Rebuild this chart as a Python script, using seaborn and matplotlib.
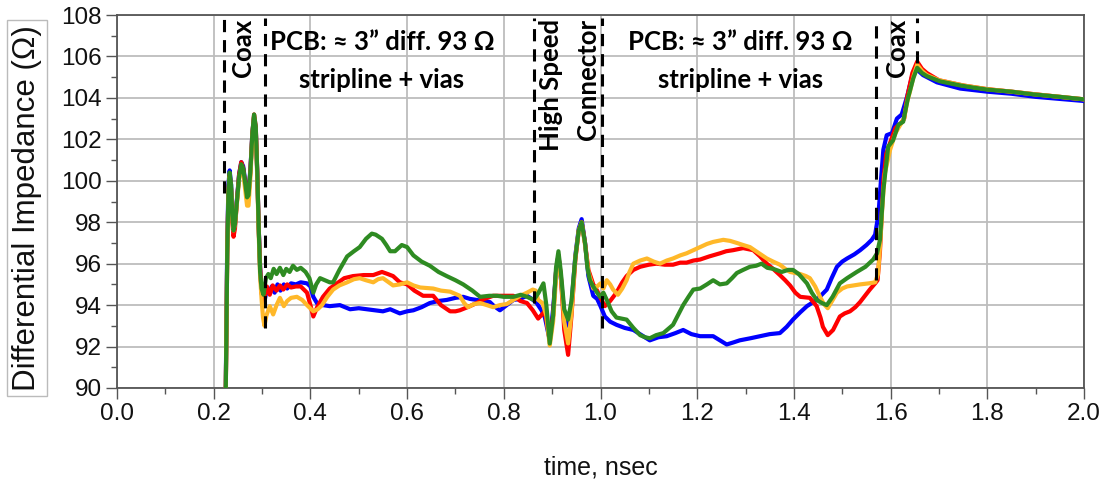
import numpy as np
import pandas as pd
import matplotlib
matplotlib.use("Agg")
import matplotlib.pyplot as plt
from matplotlib.ticker import MultipleLocator
import seaborn as sns

# ---- TDR traces: time (ns) and differential impedance (ohm) ----
# shared coax launch segment (same time base for every trace)
launch_t = [0.2245, 0.226, 0.228, 0.2305, 0.233, 0.236, 0.2385, 0.241, 0.244, 0.248,
            0.2525, 0.257, 0.261, 0.265, 0.269, 0.272, 0.276, 0.28, 0.2835, 0.287,
            0.29, 0.293, 0.296, 0.299]
launch_blue = [89.0, 92.5, 97.0, 99.8, 100.5, 99.8, 98.4, 97.7, 98.0, 99.1,
               100.3, 100.9, 100.7, 100.0, 99.3, 99.4, 100.6, 102.3, 103.1, 102.5,
               100.4, 97.8, 95.8, 94.7]
launch_red = [89.0, 92.0, 96.5, 99.5, 100.3, 99.6, 98.0, 97.3, 97.7, 99.0,
              100.3, 100.9, 100.6, 99.9, 99.2, 99.3, 100.5, 102.3, 103.2, 102.6,
              100.5, 97.8, 95.8, 94.6]
launch_orange = [89.0, 92.0, 96.5, 99.4, 100.2, 99.6, 98.2, 97.6, 97.9, 98.9,
                 100.1, 100.6, 100.4, 99.6, 98.8, 98.8, 100.2, 102.2, 103.1, 102.4,
                 100.2, 97.5, 95.4, 94.3]
launch_green = [89.0, 92.0, 96.5, 99.5, 100.4, 99.8, 98.3, 97.6, 97.9, 99.0,
                100.2, 100.8, 100.6, 99.9, 99.2, 99.3, 100.5, 102.3, 103.2, 102.6,
                100.5, 97.8, 95.6, 94.8]

blue_t = [0.302, 0.306, 0.31, 0.315, 0.32, 0.326, 0.332, 0.338, 0.345, 0.352, 0.36,
          0.37, 0.38, 0.393, 0.4, 0.406, 0.416, 0.426, 0.44, 0.461, 0.482, 0.5,
          0.517, 0.535, 0.55, 0.565, 0.585, 0.6, 0.613, 0.63, 0.647, 0.665, 0.682,
          0.7, 0.716, 0.73, 0.744, 0.758, 0.771, 0.78, 0.792, 0.806, 0.82, 0.834,
          0.848, 0.858, 0.868, 0.878, 0.885, 0.895, 0.902, 0.908, 0.913, 0.918,
          0.925, 0.933, 0.94, 0.948, 0.955, 0.961, 0.968, 0.975, 0.985, 0.993,
          1.0, 1.009, 1.02, 1.033, 1.05, 1.068, 1.085, 1.102, 1.12, 1.137, 1.155,
          1.171, 1.188, 1.206, 1.233, 1.247, 1.261, 1.275, 1.288, 1.31, 1.33,
          1.35, 1.371, 1.385, 1.398, 1.413, 1.427, 1.447, 1.468, 1.478, 1.489,
          1.5, 1.51, 1.525, 1.537, 1.55, 1.561, 1.568, 1.575, 1.58, 1.585, 1.592,
          1.603, 1.613, 1.623, 1.634, 1.644, 1.653, 1.667, 1.696, 1.744, 1.8,
          1.85, 1.9, 1.95, 2.0]
blue_z = [94.0, 94.3, 94.8, 94.6, 94.9, 94.6, 95.0, 94.7, 95.0, 94.8, 95.05,
          95.0, 95.1, 95.05, 94.9, 94.4, 94.0, 94.0, 93.95, 94.0, 93.8, 93.85,
          93.8, 93.75, 93.7, 93.8, 93.6, 93.7, 93.75, 93.9, 94.1, 94.2, 94.25,
          94.35, 94.4, 94.3, 94.25, 94.2, 94.15, 93.95, 93.75, 94.0, 94.25, 94.3,
          94.45, 94.3, 94.1, 93.75, 93.4, 92.3, 93.8, 95.6, 96.4, 95.3,
          93.6, 93.0, 94.0, 96.4, 97.7, 98.15, 97.0, 95.4, 94.45, 94.3,
          93.95, 93.45, 93.2, 93.05, 92.9, 92.8, 92.55, 92.3, 92.45, 92.5, 92.65,
          92.8, 92.6, 92.5, 92.5, 92.3, 92.1, 92.2, 92.3, 92.4, 92.5,
          92.6, 92.65, 92.95, 93.3, 93.65, 93.95, 94.25, 94.75, 95.3, 95.85,
          96.1, 96.25, 96.45, 96.65, 96.9, 97.15, 97.4, 98.4, 100.0, 101.5, 102.2,
          102.3, 103.0, 103.2, 104.05, 105.0, 105.4, 105.1, 104.75, 104.45, 104.3,
          104.2, 104.05, 103.95, 103.85]

red_t = [0.303, 0.31, 0.316, 0.322, 0.33, 0.337, 0.344, 0.352, 0.36, 0.37, 0.38,
         0.393, 0.4, 0.406, 0.414, 0.426, 0.44, 0.455, 0.47, 0.488, 0.51, 0.53,
         0.548, 0.56, 0.571, 0.585, 0.6, 0.615, 0.633, 0.654, 0.67, 0.689, 0.7,
         0.709, 0.725, 0.744, 0.76, 0.778, 0.8, 0.82, 0.834, 0.848, 0.86, 0.871,
         0.877, 0.885, 0.89, 0.895, 0.902, 0.908, 0.913, 0.918, 0.925, 0.933,
         0.94, 0.948, 0.955, 0.961, 0.968, 0.975, 0.985, 0.993, 1.0, 1.009, 1.02,
         1.033, 1.045, 1.054, 1.068, 1.082, 1.1, 1.116, 1.133, 1.15, 1.165, 1.178,
         1.192, 1.206, 1.225, 1.247, 1.26, 1.274, 1.295, 1.316, 1.33, 1.344,
         1.357, 1.371, 1.382, 1.392, 1.403, 1.413, 1.433, 1.447, 1.455, 1.46,
         1.47, 1.481, 1.495, 1.505, 1.516, 1.527, 1.537, 1.547, 1.557, 1.568,
         1.573, 1.578, 1.585, 1.591, 1.6, 1.61, 1.622, 1.628, 1.634, 1.645,
         1.655, 1.665, 1.675, 1.7, 1.75, 1.8, 1.85, 1.9, 1.95, 2.0]
red_z = [94.2, 94.9, 94.5, 94.95, 94.7, 94.95, 94.75, 95.0, 94.85, 94.9, 94.9,
         94.6, 94.0, 93.45, 93.9, 94.4, 94.8, 95.05, 95.3, 95.4, 95.45, 95.45,
         95.6, 95.5, 95.4, 95.1, 95.0, 94.7, 94.45, 94.45, 94.0, 93.7, 93.7,
         93.75, 93.9, 94.1, 94.3, 94.45, 94.45, 94.45, 94.2, 94.1, 93.75, 93.35,
         93.5, 93.7, 93.0, 92.3, 93.5, 95.6, 96.4, 95.4, 92.8, 91.6,
         93.5, 96.2, 97.6, 98.0, 97.0, 95.7, 95.0, 94.7, 94.35, 93.95, 94.2,
         94.6, 95.1, 95.4, 95.7, 95.85, 95.95, 96.0, 95.95, 95.95, 96.05, 96.05,
         96.15, 96.2, 96.35, 96.5, 96.6, 96.65, 96.75, 96.65, 96.35, 96.0,
         95.75, 95.45, 95.2, 94.95, 94.6, 94.4, 94.35, 93.95, 93.4, 92.95,
         92.55, 92.8, 93.45, 93.6, 93.7, 93.9, 94.15, 94.45, 94.75, 95.05,
         95.2, 96.6, 100.0, 101.3, 101.9, 102.55, 102.8, 103.0, 104.0, 105.2,
         105.75, 105.4, 105.2, 104.85, 104.6, 104.42, 104.3, 104.17, 104.05, 103.93]

orange_t = [0.302, 0.305, 0.309, 0.316, 0.323, 0.33, 0.337, 0.345, 0.352, 0.36,
            0.372, 0.383, 0.393, 0.406, 0.415, 0.424, 0.435, 0.447, 0.46, 0.476,
            0.49, 0.502, 0.515, 0.53, 0.54, 0.55, 0.571, 0.585, 0.6, 0.613, 0.627,
            0.654, 0.67, 0.689, 0.709, 0.718, 0.726, 0.738, 0.751, 0.765, 0.778,
            0.792, 0.806, 0.82, 0.834, 0.848, 0.86, 0.866, 0.871, 0.88, 0.888,
            0.895, 0.902, 0.908, 0.913, 0.918, 0.925, 0.933, 0.94, 0.948, 0.955,
            0.961, 0.968, 0.975, 0.985, 0.993, 1.0, 1.006, 1.013, 1.02, 1.026,
            1.036, 1.045, 1.054, 1.06, 1.068, 1.082, 1.096, 1.11, 1.123, 1.137,
            1.15, 1.165, 1.178, 1.192, 1.206, 1.22, 1.233, 1.254, 1.268, 1.282,
            1.295, 1.309, 1.325, 1.344, 1.357, 1.371, 1.382, 1.392, 1.413, 1.425,
            1.433, 1.444, 1.454, 1.462, 1.47, 1.479, 1.489, 1.5, 1.51, 1.537,
            1.555, 1.568, 1.574, 1.578, 1.583, 1.588, 1.599, 1.61, 1.62, 1.628,
            1.634, 1.64, 1.648, 1.655, 1.665, 1.675, 1.7, 1.75, 1.8, 1.85, 1.9,
            1.95, 2.0]
orange_z = [93.4, 93.0, 93.5, 93.95, 93.55, 94.0, 94.35, 93.95, 94.2, 94.35,
            94.4, 94.25, 94.0, 93.7, 93.8, 94.0, 94.4, 94.75, 94.95, 95.1,
            95.25, 95.3, 95.2, 95.1, 95.25, 95.3, 94.95, 95.0, 95.1, 94.95, 94.85,
            94.8, 94.7, 94.65, 94.45, 94.1, 93.9, 94.05, 94.1, 94.0, 93.9,
            94.0, 94.05, 94.25, 94.45, 94.6, 94.75, 94.7, 94.25, 94.1, 93.5,
            92.05, 93.2, 95.3, 96.2, 95.4, 93.2, 92.15, 93.6, 96.3, 97.6,
            98.0, 96.9, 95.6, 94.8, 94.9, 95.05, 94.8, 95.2, 95.0, 94.75,
            94.5, 94.8, 95.2, 95.6, 96.0, 96.15, 96.25, 96.1, 96.0, 96.15,
            96.25, 96.4, 96.5, 96.65, 96.8, 96.95, 97.05, 97.15, 97.1, 97.0,
            96.9, 96.8, 96.55, 96.25, 96.1, 95.95, 95.75, 95.6, 95.5, 95.4,
            95.3, 94.9, 94.4, 94.05, 93.85, 94.2, 94.6, 94.8, 94.9, 95.0,
            95.05, 95.1, 95.5, 96.8, 98.8, 100.35, 101.5, 102.3, 102.7, 103.0,
            103.8, 104.3, 105.1, 105.6, 105.3, 105.1, 104.85, 104.6, 104.42, 104.3,
            104.17, 104.05, 103.93]

green_t = [0.303, 0.308, 0.313, 0.318, 0.324, 0.33, 0.337, 0.344, 0.35, 0.357,
           0.364, 0.372, 0.38, 0.39, 0.398, 0.406, 0.412, 0.42, 0.43, 0.44, 0.447,
           0.46, 0.476, 0.49, 0.502, 0.515, 0.527, 0.535, 0.548, 0.557, 0.565,
           0.575, 0.589, 0.6, 0.613, 0.63, 0.647, 0.665, 0.682, 0.7, 0.716, 0.735,
           0.751, 0.77, 0.786, 0.8, 0.82, 0.835, 0.848, 0.862, 0.872, 0.882, 0.888,
           0.895, 0.902, 0.908, 0.913, 0.918, 0.925, 0.933, 0.94, 0.948, 0.955,
           0.961, 0.968, 0.973, 0.978, 0.985, 0.993, 0.999, 1.006, 1.013, 1.023,
           1.033, 1.044, 1.054, 1.068, 1.082, 1.092, 1.102, 1.115, 1.13, 1.14,
           1.15, 1.16, 1.171, 1.182, 1.192, 1.206, 1.22, 1.233, 1.247, 1.261,
           1.272, 1.282, 1.295, 1.309, 1.322, 1.333, 1.345, 1.357, 1.375, 1.388,
           1.398, 1.41, 1.427, 1.437, 1.447, 1.458, 1.468, 1.48, 1.495, 1.51,
           1.53, 1.548, 1.564, 1.572, 1.578, 1.585, 1.595, 1.605, 1.616, 1.626,
           1.636, 1.647, 1.655, 1.665, 1.675, 1.702, 1.723, 1.744, 1.77, 1.8,
           1.85, 1.895, 1.95, 2.0]
green_z = [94.5, 95.3, 95.5, 95.3, 95.75, 95.5, 95.8, 95.45, 95.75, 95.6,
           95.9, 95.7, 95.8, 95.6, 95.3, 94.6, 95.0, 95.3, 95.2, 95.1, 95.1,
           95.7, 96.35, 96.6, 96.8, 97.2, 97.45, 97.4, 97.2, 96.9, 96.6,
           96.6, 96.9, 96.8, 96.4, 96.1, 95.9, 95.6, 95.4, 95.2, 95.0, 94.7,
           94.4, 94.45, 94.45, 94.4, 94.4, 94.5, 94.4, 94.25, 94.6, 95.05, 94.0,
           92.15, 93.5, 95.8, 96.6, 95.6, 93.8, 93.3, 94.2, 96.3, 97.6,
           98.0, 97.0, 95.8, 95.2, 94.9, 94.6, 94.4, 94.6, 94.25, 93.7,
           93.4, 93.35, 93.3, 92.9, 92.55, 92.45, 92.4, 92.55, 92.65, 92.85,
           93.05, 93.5, 94.0, 94.4, 94.75, 94.8, 95.0, 95.2, 95.0, 95.05,
           95.3, 95.55, 95.7, 95.85, 95.9, 96.0, 95.8, 95.75, 95.6, 95.7,
           95.7, 95.5, 95.05, 94.6, 94.25, 94.1, 94.0, 94.4, 95.05, 95.3,
           95.6, 95.85, 96.2, 96.5, 97.15, 99.55, 101.65, 101.95, 102.7, 102.85,
           104.0, 104.95, 105.45, 105.2, 105.05, 104.8, 104.7, 104.6, 104.5, 104.4,
           104.3, 104.17, 104.05, 103.93]

series_names = ["blue", "red", "orange", "green"]
series_colors = ["#0000FF", "#FF0000", "#FFB829", "#2E8B22"]

# section boundaries: time and the impedance where each marker stops
marker_t = [0.221, 0.306, 0.862, 1.003, 1.569, 1.654]
marker_bottom = [99.4, 92.9, 94.1, 92.9, 95.2, 105.7]

x_ticks = [0.0, 0.2, 0.4, 0.6, 0.8, 1.0, 1.2, 1.4, 1.6, 1.8, 2.0]
y_ticks = [90, 92, 94, 96, 98, 100, 102, 104, 106, 108]

frames = []
traces = {
    "blue": (launch_blue, blue_t, blue_z),
    "red": (launch_red, red_t, red_z),
    "orange": (launch_orange, orange_t, orange_z),
    "green": (launch_green, green_t, green_z),
}
for name in series_names:
    launch, t, z = traces[name]
    frames.append(pd.DataFrame({"time": list(launch_t) + list(t),
                                "z": list(launch) + list(z),
                                "trace": name}))
df = pd.concat(frames, ignore_index=True)

sns.set_style("white")
plt.rcParams["font.family"] = ["Liberation Sans", "DejaVu Sans"]

fig = plt.figure(figsize=(11.07, 4.84), dpi=100)
ax = fig.add_axes([117 / 1107, 1 - 388 / 484, 967 / 1107, 373 / 484])

for name, color in zip(series_names, series_colors):
    sns.lineplot(data=df[df["trace"] == name], x="time", y="z", color=color,
                 lw=3.0, ax=ax, legend=False, zorder=3, estimator=None, sort=False)

for t, zb in zip(marker_t, marker_bottom):
    ax.vlines(t, zb, 107.85, colors="black", lw=2.2,
              linestyles=(0, (4, 2.6)), zorder=5)

ax.set_xlim(0, 2.0)
ax.set_ylim(90, 108)
ax.set_xticks(x_ticks)
ax.set_xticklabels([f"{v:.1f}" for v in x_ticks])
ax.set_yticks(y_ticks)
ax.xaxis.set_minor_locator(MultipleLocator(0.1))
ax.yaxis.set_minor_locator(MultipleLocator(1))
ax.grid(True, which="major", color="#BDBDBD", lw=1.3, zorder=0)
ax.tick_params(axis="both", which="major", direction="out", length=8, width=1,
               color="#555555", labelsize=17.5, pad=3, labelcolor="#111111")
ax.tick_params(axis="both", which="minor", direction="out", length=4, width=1,
               color="#555555")
ax.tick_params(axis="x", which="both", bottom=True)
ax.tick_params(axis="y", which="both", left=True)
for s in ax.spines.values():
    s.set_color("#555555")
    s.set_linewidth(1.3)

ax.set_xlabel("time, nsec", fontsize=18, labelpad=22, color="#111111")
ax.set_ylabel("")
fig.text(27 / 1107, 1 - 208 / 484, "Differential Impedance (Ω)", rotation=90,
         ha="center", va="center", fontsize=22.5, color="#111111",
         bbox=dict(boxstyle="square,pad=0.15", fc="white", ec="#BBBBBB", lw=1))

bold = dict(fontweight="bold", family=["Lato", "DejaVu Sans"], color="black",
            zorder=6, fontsize=18.5)
ax.text(0.2606, 107.8, "Coax", rotation=90, ha="center", va="top", **bold)
ax.text(1.613, 107.8, "Coax", rotation=90, ha="center", va="top", **bold)
ax.text(0.898, 107.8, "High Speed", rotation=90, ha="center", va="top", **bold)
ax.text(0.974, 107.8, "Connector", rotation=90, ha="center", va="top", **bold)
for cx in (0.548, 1.29):
    ax.text(cx, 106.7, "PCB: ≈ 3” diff. 93 Ω", ha="center", va="center", **bold)
    ax.text(cx, 104.86, "stripline + vias", ha="center", va="center", **bold)

fig.savefig("out.png", dpi=100)
